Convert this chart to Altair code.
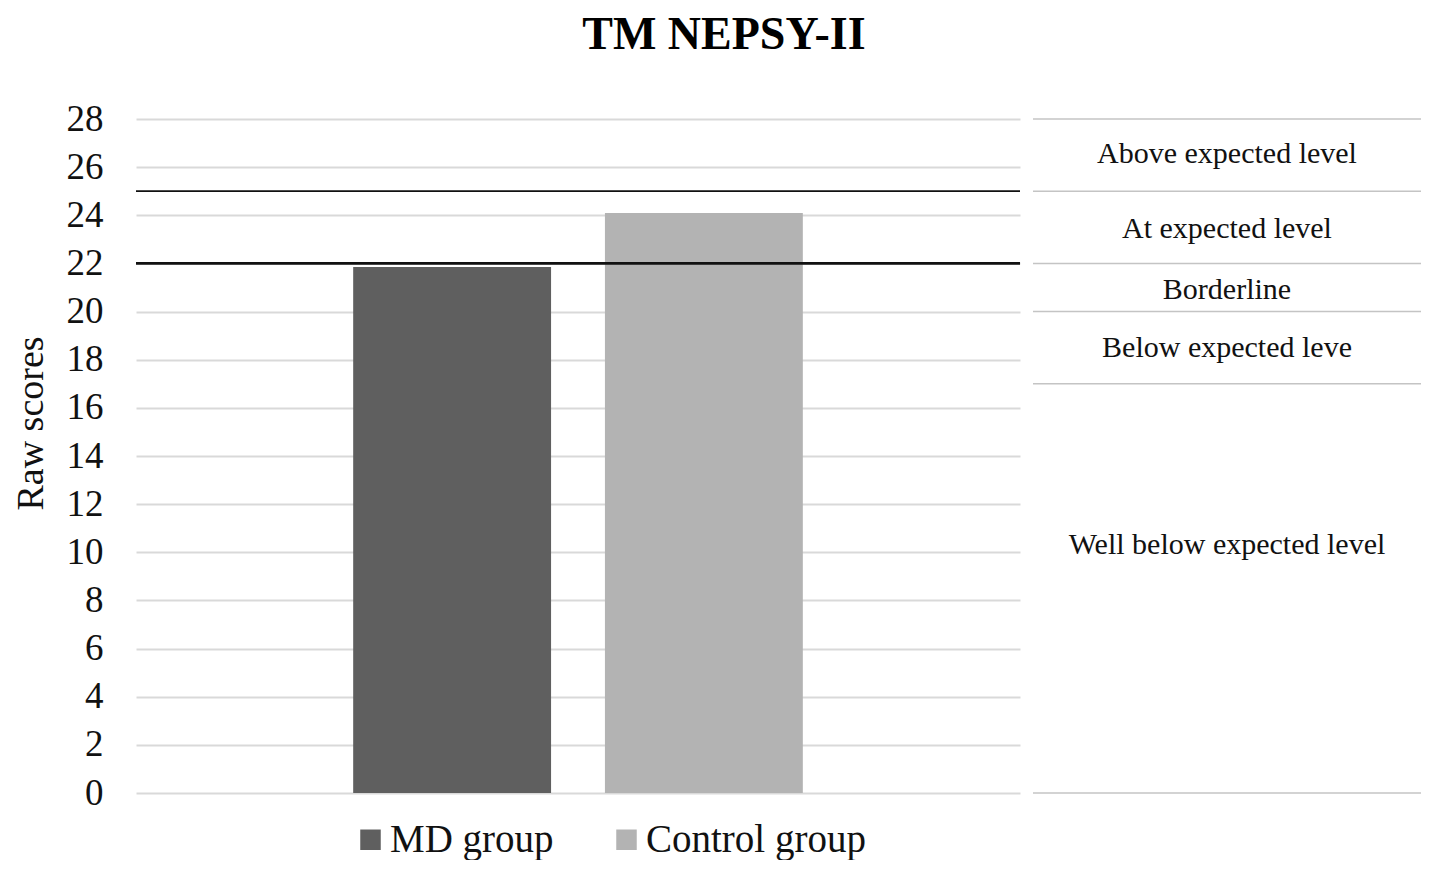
import altair as alt
import pandas as pd

# ---- data ----
groups = ["MD group", "Control group"]
scores = [21.85, 24.1]
group_colors = ["#5f5f5f", "#b3b3b3"]
category = ["TM"]

threshold_upper = [25]
threshold_lower = [22]

level_bounds = [28, 25, 22, 20, 17, 0]
level_labels = ["Above expected level", "At expected level", "Borderline",
                "Below expected leve", "Well below expected level"]
level_label_pos = [26.55, 23.45, 20.9, 18.5, 10.3]

y_ticks = list(range(0, 29))

FONT = "Liberation Serif"
LEFT_W, RIGHT_W, H = 884, 388, 674

bars_df = pd.DataFrame({"cat": category * len(groups), "group": groups, "score": scores})

yscale = alt.Scale(domain=[0, 28], nice=False, zero=True)

bars = alt.Chart(bars_df).mark_bar().encode(
    x=alt.X("cat:N", axis=None, scale=alt.Scale(paddingOuter=0.483, paddingInner=0)),
    xOffset=alt.XOffset("group:N", sort=groups,
                        scale=alt.Scale(paddingInner=0.214, paddingOuter=0)),
    y=alt.Y("score:Q", scale=yscale,
            axis=alt.Axis(title="Raw scores", values=y_ticks,
                          labelExpr="datum.value % 2 == 0 ? datum.label : ''",
                          labelFont=FONT, labelFontSize=37, labelColor="#111111",
                          labelPadding=33, titleFont=FONT, titleFontSize=38,
                          titleFontWeight="normal", titleColor="#111111",
                          titlePadding=16, titleY=304, domain=False, ticks=False,
                          grid=True, gridColor="#d9d9d9", gridWidth=2)),
    color=alt.Color("group:N", sort=groups,
                    scale=alt.Scale(domain=groups, range=group_colors),
                    legend=alt.Legend(title=None, orient="none", direction="horizontal",
                                      legendX=215, legendY=701,
                                      symbolType="square", symbolSize=420,
                                      symbolStrokeWidth=0, labelFont=FONT,
                                      labelFontSize=39, labelColor="#111111",
                                      labelOffset=0, columnPadding=53,
                                      labelLimit=400)),
)

rule_up = alt.Chart(pd.DataFrame({"v": threshold_upper})).mark_rule(
    color="#111111", strokeWidth=1.8).encode(y=alt.Y("v:Q", scale=yscale))
rule_low = alt.Chart(pd.DataFrame({"v": threshold_lower})).mark_rule(
    color="#111111", strokeWidth=2.8).encode(y=alt.Y("v:Q", scale=yscale))

left = alt.layer(bars, rule_up, rule_low).properties(width=LEFT_W, height=H)

bounds_df = pd.DataFrame({"v": level_bounds})
labels_df = pd.DataFrame({"label": level_labels, "pos": level_label_pos})

right_rules = alt.Chart(bounds_df).mark_rule(color="#c4c4c4", strokeWidth=1.6).encode(
    y=alt.Y("v:Q", scale=yscale, axis=None))
right_text = alt.Chart(labels_df).mark_text(
    font=FONT, fontSize=30, color="#111111", align="center", baseline="middle"
).encode(
    x=alt.value(RIGHT_W / 2),
    y=alt.Y("pos:Q", scale=yscale, axis=None),
    text="label:N",
)
right = alt.layer(right_rules, right_text).properties(width=RIGHT_W, height=H)

chart = alt.hconcat(left, right, spacing=10).properties(
    title=alt.TitleParams("TM NEPSY-II", font=FONT, fontSize=46, fontWeight="bold",
                          color="#000000", anchor="middle", offset=41, dx=7),
    padding={"left": 4, "top": 4, "right": 0, "bottom": 0},
).configure(background="white").configure_view(strokeWidth=0, stroke="transparent")

chart.save("out.html", embed_options={"renderer": "svg", "actions": False})
